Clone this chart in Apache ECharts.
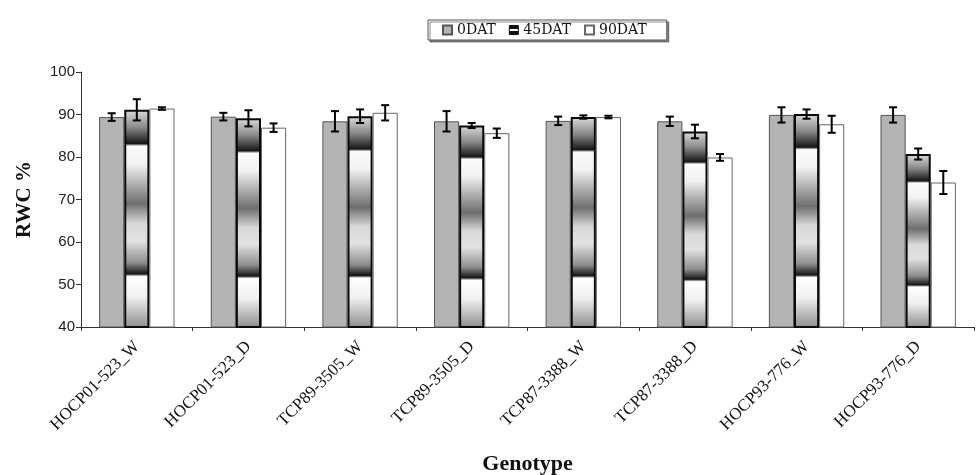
<!DOCTYPE html>
<html>
<head>
<meta charset="utf-8">
<script src="https://cdn.jsdelivr.net/npm/echarts@6/dist/echarts.min.js"></script>
<style>
  html, body { margin: 0; padding: 0; background: #fff; }
  #rwc_chart { width: 976px; height: 475px; }
</style>
</head>
<body>
<div id="rwc_chart"></div>
<script>
// Data
// ------------------------------

var genotypes = ['HOCP01-523_W', 'HOCP01-523_D', 'TCP89-3505_W', 'TCP89-3505_D',
                 'TCP87-3388_W', 'TCP87-3388_D', 'HOCP93-776_W', 'HOCP93-776_D'];
var seriesNames = ['0DAT', '45DAT', '90DAT'];

var dat0 = [89.4, 89.5, 88.4, 88.4, 88.5, 88.4, 89.9, 89.9];
var err0 = [0.9, 0.9, 2.4, 2.4, 1.0, 1.1, 1.8, 1.8];
var dat45 = [91.1, 89.1, 89.6, 87.4, 89.4, 86.0, 90.1, 80.7];
var err45 = [2.5, 1.9, 1.6, 0.6, 0.4, 1.6, 1.1, 1.3];
var dat90 = [91.4, 86.9, 90.4, 85.6, 89.4, 79.9, 87.7, 74.0];
var err90 = [0.3, 1.0, 1.8, 1.1, 0.3, 0.8, 2.0, 2.7];

var yTicks = { min: 40, max: 100, step: 10 };


// Setup
// ------------------------------

var serif = '"Liberation Serif", "DejaVu Serif", serif';
var barWidthRatio = 0.225;

// banded fill of the 45DAT bars
var bandFill = new echarts.graphic.LinearGradient(0, 0, 0, 1, [
    { offset: 0, color: '#dcdcdc' },
    { offset: 0.08, color: '#8a8a8a' },
    { offset: 0.155, color: '#151515' },
    { offset: 0.166, color: '#fbfbfb' },
    { offset: 0.25, color: '#f2f2f2' },
    { offset: 0.43, color: '#6e6e6e' },
    { offset: 0.52, color: '#d8d8d8' },
    { offset: 0.6, color: '#e2e2e2' },
    { offset: 0.7, color: '#8e8e8e' },
    { offset: 0.752, color: '#151515' },
    { offset: 0.764, color: '#ffffff' },
    { offset: 0.86, color: '#efefef' },
    { offset: 1, color: '#8c8c8c' }
]);

// legend swatch for 45DAT: black with a white stripe
var iconFill = new echarts.graphic.LinearGradient(0, 0, 0, 1, [
    { offset: 0, color: '#111' },
    { offset: 0.4, color: '#111' },
    { offset: 0.42, color: '#fff' },
    { offset: 0.58, color: '#fff' },
    { offset: 0.6, color: '#111' },
    { offset: 1, color: '#111' }
]);

var errorBars = function(values, errors, slot) {
    var rows = values.map(function(v, i) { return [i, v, errors[i]]; });
    return {
        type: 'custom',
        name: 'err' + slot,
        z: 10,
        silent: true,
        renderItem: function(params, api) {
            var idx = api.value(0), v = api.value(1), e = api.value(2);
            var band = api.size([1, 0])[0];
            var x = api.coord([idx, v])[0] + (slot - 1) * band * barWidthRatio;
            var top = api.coord([idx, v + e])[1];
            var bot = api.coord([idx, v - e])[1];
            var style = { stroke: '#000', lineWidth: 2 };
            return {
                type: 'group',
                children: [
                    { type: 'line', shape: { x1: x, y1: top, x2: x, y2: bot }, style: style },
                    { type: 'line', shape: { x1: x - 4, y1: top, x2: x + 4, y2: top }, style: style },
                    { type: 'line', shape: { x1: x - 4, y1: bot, x2: x + 4, y2: bot }, style: style }
                ]
            };
        },
        data: rows
    };
};

var chart = echarts.init(document.getElementById('rwc_chart'), null, { renderer: 'canvas' });

chart.setOption({
    animation: false,
    backgroundColor: '#fff',

    legend: {
        top: 20,
        left: 428,
        icon: 'rect',
        data: [
            { name: '0DAT' },
            { name: '45DAT', itemStyle: { color: iconFill, borderColor: '#111', borderWidth: 1 } },
            { name: '90DAT' }
        ],
        itemWidth: 9,
        itemHeight: 9,
        itemGap: 13,
        padding: [3, 20, 3, 14],
        borderColor: '#555',
        borderWidth: 1,
        shadowColor: 'rgba(0,0,0,0.45)',
        shadowOffsetX: 2,
        shadowOffsetY: 2,
        backgroundColor: '#fff',
        selectedMode: false,
        textStyle: { fontFamily: '"DejaVu Serif", serif', fontSize: 14, color: '#111' }
    },

    grid: {
        left: 81,
        right: 2,
        top: 72,
        bottom: 148,
        containLabel: false,
        outerBoundsMode: 'none'
    },

    xAxis: {
        type: 'category',
        data: genotypes,
        name: 'Genotype',
        nameLocation: 'middle',
        nameGap: 126,
        nameTextStyle: { fontFamily: serif, fontSize: 22, fontWeight: 'bold', color: '#111' },
        axisLine: { show: true, lineStyle: { color: '#333', width: 1 } },
        axisTick: { show: true, length: 4, lineStyle: { color: '#333' } },
        axisLabel: {
            rotate: 45,
            interval: 0,
            margin: 17,
            fontFamily: serif,
            fontSize: 17,
            color: '#111'
        },
        splitLine: { show: false }
    },

    yAxis: {
        type: 'value',
        min: yTicks.min,
        max: yTicks.max,
        interval: yTicks.step,
        name: 'RWC %',
        nameLocation: 'middle',
        nameRotate: 90,
        nameGap: 46,
        nameTextStyle: { fontFamily: serif, fontSize: 21, fontWeight: 'bold', color: '#111' },
        axisLine: { show: true, lineStyle: { color: '#333', width: 1 } },
        axisTick: { show: true, length: 5, lineStyle: { color: '#333' } },
        axisLabel: {
            margin: 6,
            fontFamily: '"Liberation Sans Narrow", "Liberation Sans", Arial, sans-serif',
            fontSize: 15,
            color: '#222'
        },
        splitLine: { show: false }
    },

    series: [
        {
            name: '0DAT',
            type: 'bar',
            barWidth: (barWidthRatio * 100) + '%',
            barGap: '0%',
            itemStyle: { color: '#b4b4b4', borderColor: '#555', borderWidth: 1 },
            data: dat0
        },
        {
            name: '45DAT',
            type: 'bar',
            barWidth: (barWidthRatio * 100) + '%',
            barGap: '0%',
            itemStyle: { color: bandFill, borderColor: '#0a0a0a', borderWidth: 2 },
            data: dat45
        },
        {
            name: '90DAT',
            type: 'bar',
            barWidth: (barWidthRatio * 100) + '%',
            barGap: '0%',
            itemStyle: { color: '#ffffff', borderColor: '#666', borderWidth: 1 },
            data: dat90
        },
        errorBars(dat0, err0, 0),
        errorBars(dat45, err45, 1),
        errorBars(dat90, err90, 2)
    ]
});
</script>
</body>
</html>
